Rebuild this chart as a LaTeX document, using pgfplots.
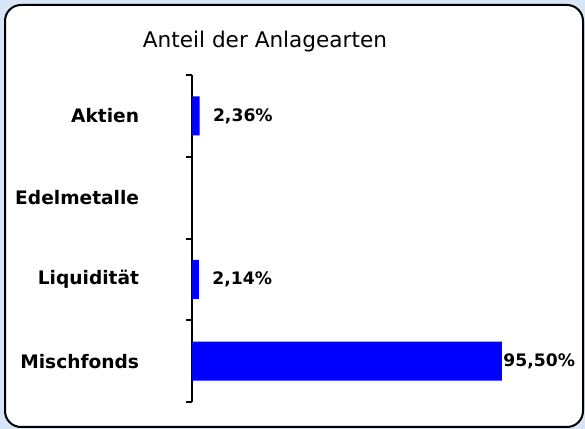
\documentclass[border=0pt]{standalone}
\usepackage{fontspec}
\setmainfont{DejaVu Sans}
\usepackage{calc}
\usepackage{pgfplots}
\pgfplotsset{compat=1.18}
\definecolor{framebg}{RGB}{214,230,246}
\definecolor{barblue}{RGB}{0,0,255}
\begin{document}
\begin{tikzpicture}[x=1pt,y=1pt]
% frame round the chart
\fill[framebg] (0,0) rectangle (292.5,214.5);
\draw[line width=1pt, fill=white, rounded corners=8pt] (2.5,1) rectangle (291.5,212);
\node[anchor=base, font=\fontsize{10.8}{13}\selectfont] at (132.5,190.5) {Anteil der Anlagearten};
\begin{axis}[
    at={(96pt,13.5pt)}, anchor=south west,
    scale only axis, width=162.3pt, height=163.5pt,
    xbar, bar width=19.5pt,
    xmin=0, xmax=100, ymin=-0.5, ymax=3.5,
    axis x line=none, axis y line*=left,
    y axis line style={line width=1pt},
    ytick={0,1,2,3},
    yticklabels={Mischfonds,Liquidität,Edelmetalle,Aktien},
    ytick style={draw=none},
    yticklabel style={font=\bfseries\fontsize{9.3}{11}\selectfont, anchor=east, inner sep=0pt, xshift=-22pt},
    extra y ticks={-0.5,0.5,1.5,2.5,3.5},
    extra y tick labels={},
    extra y tick style={ytick style={draw=black, line width=1pt}, major tick length=3pt, tick align=outside},
    nodes near coords={\makebox[\widthof{95,50\%}][r]{\pgfmathprintnumber[fixed,fixed zerofill,precision=2,use comma]{\pgfplotspointmeta}\%}},
    every node near coord/.append style={font=\bfseries\fontsize{8.6}{10}\selectfont, anchor=west, inner sep=0pt, xshift=0.5pt},
    /pgf/number format/assume math mode=true,
    clip=false,
  ]
  \addplot[fill=barblue, draw=none] coordinates {(2.36,3) (2.14,1) (95.50,0)};
\end{axis}
\end{tikzpicture}
\end{document}
